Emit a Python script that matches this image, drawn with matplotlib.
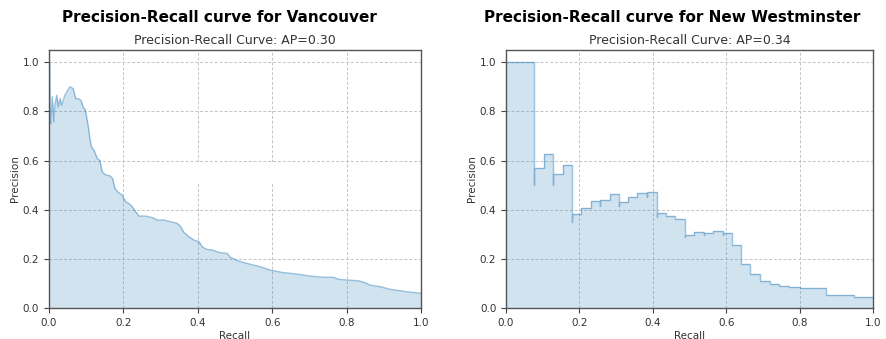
import numpy as np
import matplotlib.pyplot as plt
from matplotlib.patches import Rectangle

# Vancouver PR curve (dense, read as a polyline)
van_recall = [0.0, 0.002, 0.003, 0.005, 0.009, 0.013, 0.016, 0.021, 0.025, 0.030,
              0.034, 0.043, 0.056, 0.065, 0.072, 0.079, 0.086, 0.092, 0.098, 0.105,
              0.110, 0.114, 0.121, 0.130, 0.137, 0.143, 0.153, 0.164, 0.171, 0.177,
              0.186, 0.197, 0.206, 0.215, 0.224, 0.233, 0.242, 0.260, 0.278, 0.291,
              0.309, 0.327, 0.345, 0.354, 0.363, 0.376, 0.390, 0.403, 0.412, 0.425,
              0.439, 0.457, 0.479, 0.488, 0.510, 0.533, 0.568, 0.595, 0.626, 0.667,
              0.702, 0.738, 0.765, 0.778, 0.800, 0.832, 0.850, 0.863, 0.890, 0.917,
              0.944, 0.962, 1.0]
van_precision = [1.0, 1.0, 0.80, 0.75, 0.86, 0.757, 0.825, 0.866, 0.818, 0.852,
                 0.825, 0.866, 0.900, 0.893, 0.852, 0.852, 0.845, 0.818, 0.805, 0.744,
                 0.690, 0.656, 0.642, 0.608, 0.600, 0.554, 0.541, 0.538, 0.527, 0.487,
                 0.471, 0.459, 0.432, 0.425, 0.412, 0.392, 0.374, 0.374, 0.368, 0.358,
                 0.358, 0.351, 0.344, 0.331, 0.307, 0.290, 0.276, 0.270, 0.249, 0.238,
                 0.236, 0.226, 0.222, 0.206, 0.191, 0.181, 0.168, 0.154, 0.145, 0.138,
                 0.130, 0.125, 0.125, 0.117, 0.114, 0.111, 0.103, 0.093, 0.087, 0.076,
                 0.070, 0.066, 0.060]

# New Westminster PR curve (step, where='post')
nw_recall = [0.0, 0.077, 0.077, 0.104, 0.129, 0.129, 0.155, 0.180, 0.180, 0.205,
             0.231, 0.256, 0.256, 0.282, 0.307, 0.307, 0.333, 0.358, 0.384, 0.384,
             0.411, 0.411, 0.435, 0.461, 0.487, 0.487, 0.513, 0.538, 0.538, 0.565,
             0.590, 0.590, 0.615, 0.641, 0.666, 0.693, 0.718, 0.744, 0.770, 0.800,
             0.835, 0.872, 0.947, 1.0]
nw_precision = [1.0, 0.50, 0.571, 0.626, 0.50, 0.547, 0.584, 0.35, 0.381, 0.409,
                0.434, 0.415, 0.441, 0.463, 0.415, 0.431, 0.452, 0.468, 0.45, 0.471,
                0.37, 0.387, 0.374, 0.364, 0.287, 0.299, 0.309, 0.296, 0.305, 0.312,
                0.296, 0.305, 0.255, 0.181, 0.140, 0.109, 0.099, 0.088, 0.085, 0.083,
                0.082, 0.053, 0.046, 0.046]

cities = ["Vancouver", "New Westminster"]
ap_scores = [0.30, 0.34]
header_x = [219, 672]   # header centres, pixels

fig = plt.figure(figsize=(8.87, 3.39), dpi=100)
ax1 = fig.add_axes([0.0552, 0.0914, 0.4194, 0.7611])
ax2 = fig.add_axes([0.5705, 0.0914, 0.4138, 0.7611])

ax1.plot(van_recall, van_precision, color='C0', alpha=0.45, lw=1.0)
ax1.fill_between(van_recall, van_precision, color='C0', alpha=0.2, lw=0)

ax2.step(nw_recall, nw_precision, color='C0', alpha=0.45, lw=1.0, where='post')
ax2.fill_between(nw_recall, nw_precision, step='post', color='C0', alpha=0.2, lw=0)

for ax, city, ap, hx in zip([ax1, ax2], cities, ap_scores, header_x):
    ax.set_xlim(0, 1.0)
    ax.set_ylim(0, 1.05)
    ax.set_xticks(np.arange(0, 1.01, 0.2))
    ax.set_yticks(np.arange(0, 1.01, 0.2))
    ax.grid(True, linestyle=(0, (3, 2)), color='#c4c4c4', lw=0.7)
    ax.set_axisbelow(True)
    ax.tick_params(labelsize=7.5, length=3.5, color='#444444', labelcolor='#333333')
    for s in ax.spines.values():
        s.set_color('#555555')
        s.set_linewidth(1.0)
    ax.set_xlabel('Recall', fontsize=7.5, color='#333333', labelpad=2)
    ax.set_ylabel('Precision', fontsize=7.5, color='#333333', labelpad=2)
    ax.set_title(f'Precision-Recall Curve: AP={ap:.2f}', fontsize=9, color='#333333', pad=4)
    fig.text(hx / 887, 1 - 17 / 339, f'Precision-Recall curve for {city}',
             ha='center', va='center', fontsize=11, fontweight='bold')

# blank patch over the grid in the left panel
ax1.add_patch(Rectangle((0.3, 0.505), 0.4, 0.088, transform=ax1.transData,
                        facecolor='white', edgecolor='none', zorder=0.9))

fig.savefig('out.png', dpi=100)
